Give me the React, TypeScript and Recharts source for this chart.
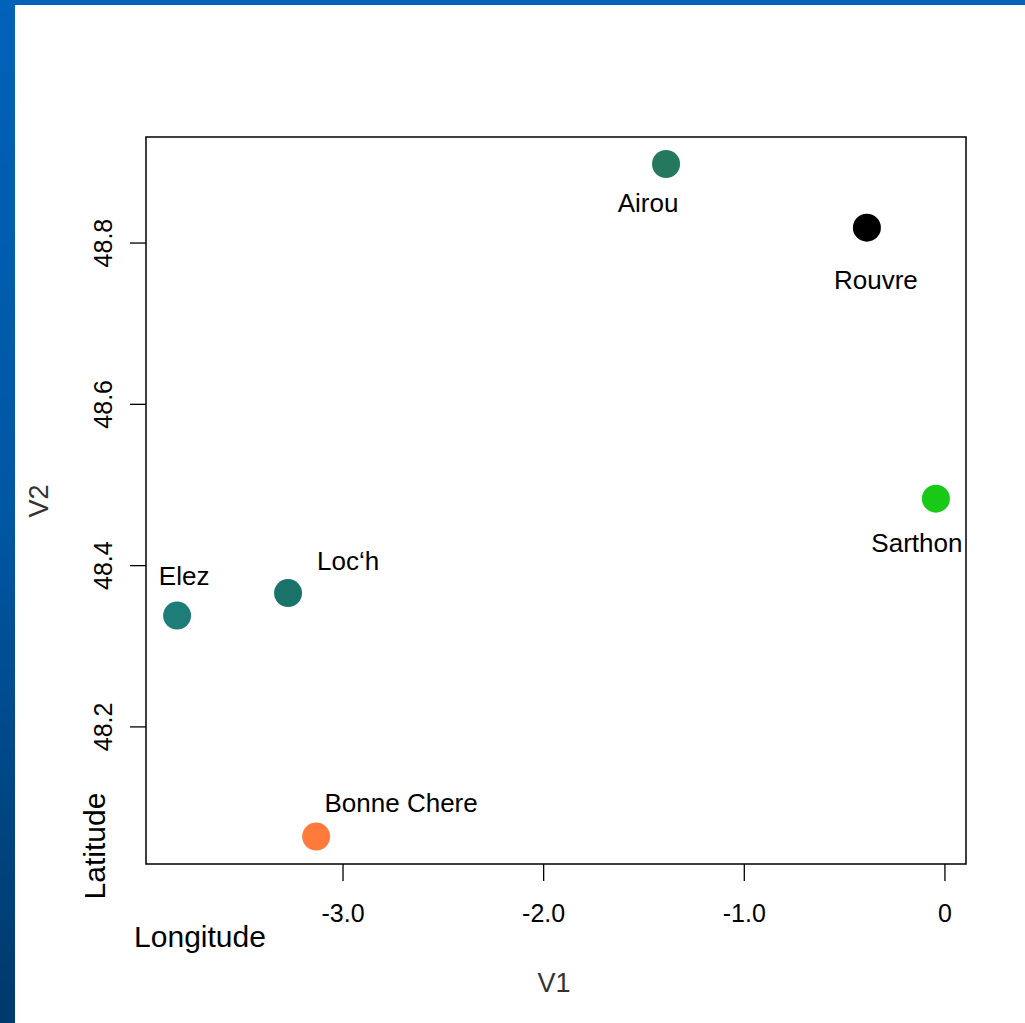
import React from 'react';
import {
  ScatterChart,
  Scatter,
  XAxis,
  YAxis,
  Cell,
  LabelList,
  ReferenceArea,
} from 'recharts';

// Sites, with longitude (V1) and latitude (V2)
const SITES = ['Airou', 'Rouvre', 'Sarthon', 'Loc\u2018h', 'Elez', 'Bonne Chere'];
const LONGITUDE = [-1.39, -0.389, -0.045, -3.274, -3.827, -3.134];
const LATITUDE = [48.898, 48.819, 48.483, 48.366, 48.338, 48.064];

const X_TICKS = [-3, -2, -1, 0];
const X_TICK_LABELS = ['-3.0', '-2.0', '-1.0', '0'];
const Y_TICKS = [48.2, 48.4, 48.6, 48.8];
const Y_TICK_LABELS = ['48.2', '48.4', '48.6', '48.8'];

const X_DOMAIN: [number, number] = [-3.982, 0.105];
const Y_DOMAIN: [number, number] = [48.03, 48.9315];

// point colours, same order as SITES
const COLORS = ['#23785d', '#000000', '#18c918', '#19736a', '#1f7d79', '#ff7a3b'];

// label placement relative to each point (dx, dy to baseline centre)
const LABEL_OFFSETS: [number, number][] = [
  [-18, 48],
  [9, 61],
  [-19, 53],
  [60, -23],
  [7, -31],
  [85, -25],
];

const FONT = '"Liberation Sans", Arial, sans-serif';

const data = SITES.map((name, i) => ({
  name,
  lon: LONGITUDE[i],
  lat: LATITUDE[i],
}));

function XTick(props: any) {
  const { x, y, payload } = props;
  const idx = X_TICKS.indexOf(payload.value);
  return (
    <text x={x} y={y + 39} textAnchor="middle" fontSize={25} fontFamily={FONT} fill="#000">
      {X_TICK_LABELS[idx]}
    </text>
  );
}

function YTick(props: any) {
  const { x, y, payload } = props;
  const idx = Y_TICKS.indexOf(payload.value);
  const tx = x - 16;
  return (
    <text
      x={tx}
      y={y}
      transform={`rotate(-90, ${tx}, ${y})`}
      textAnchor="middle"
      fontSize={25}
      fontFamily={FONT}
      fill="#000"
    >
      {Y_TICK_LABELS[idx]}
    </text>
  );
}

function SiteLabel(props: any) {
  const { x, y, width, height, index, value } = props;
  const cx = x + (width || 0) / 2;
  const cy = y + (height || 0) / 2;
  const [dx, dy] = LABEL_OFFSETS[index];
  return (
    <text x={cx + dx} y={cy + dy} textAnchor="middle" fontSize={26} fontFamily={FONT} fill="#000">
      {value}
    </text>
  );
}

export default function App() {
  return (
    <div
      style={{
        position: 'absolute',
        left: 0,
        top: 0,
        width: 1025,
        height: 1023,
        background: '#fff',
        overflow: 'hidden',
      }}
    >
      {/* slide frame */}
      <div style={{ position: 'absolute', left: 0, top: 0, width: 1025, height: 5, background: '#0062b8' }} />
      <div
        style={{
          position: 'absolute',
          left: 0,
          top: 0,
          width: 15,
          height: 1023,
          background: 'linear-gradient(to bottom, #0062b8 0%, #0057a4 50%, #00396b 100%)',
        }}
      />

      <div style={{ position: 'absolute', left: 0, top: 0 }}>
        <ScatterChart
          width={1025}
          height={1023}
          margin={{ top: 137, right: 59, bottom: 99, left: 86 }}
        >
          <XAxis
            type="number"
            dataKey="lon"
            domain={X_DOMAIN}
            ticks={X_TICKS}
            allowDataOverflow
            axisLine={false}
            tickLine={{ stroke: '#000', strokeWidth: 1.3 }}
            tickSize={17}
            tick={<XTick />}
            height={60}
          />
          <YAxis
            type="number"
            dataKey="lat"
            domain={Y_DOMAIN}
            ticks={Y_TICKS}
            allowDataOverflow
            axisLine={false}
            tickLine={{ stroke: '#000', strokeWidth: 1.3 }}
            tickSize={16}
            tick={<YTick />}
            width={60}
          />
          <ReferenceArea
            x1={X_DOMAIN[0]}
            x2={X_DOMAIN[1]}
            y1={Y_DOMAIN[0]}
            y2={Y_DOMAIN[1]}
            fill="none"
            stroke="#000"
            strokeWidth={1.5}
            ifOverflow="visible"
          />
          <Scatter
            data={data}
            isAnimationActive={false}
            shape={(p: any) => <circle cx={p.cx} cy={p.cy} r={14} fill={p.fill} />}
          >
            {data.map((d, i) => (
              <Cell key={d.name} fill={COLORS[i]} />
            ))}
            <LabelList dataKey="name" content={<SiteLabel />} />
          </Scatter>
        </ScatterChart>
      </div>

      {/* axis titles and annotations */}
      <svg
        width={1025}
        height={1023}
        style={{ position: 'absolute', left: 0, top: 0, pointerEvents: 'none' }}
      >
        <text x={554} y={992} textAnchor="middle" fontSize={27} fontFamily={FONT} fill="#333">
          V1
        </text>
        <text
          x={48}
          y={501}
          transform="rotate(-90, 48, 501)"
          textAnchor="middle"
          fontSize={27}
          fontFamily={FONT}
          fill="#333"
        >
          V2
        </text>
        <text x={200} y={947} textAnchor="middle" fontSize={30} fontFamily={FONT} fill="#000">
          Longitude
        </text>
        <text
          x={105}
          y={846}
          transform="rotate(-90, 105, 846)"
          textAnchor="middle"
          fontSize={30}
          fontFamily={FONT}
          fill="#000"
        >
          Latitude
        </text>
      </svg>
    </div>
  );
}
